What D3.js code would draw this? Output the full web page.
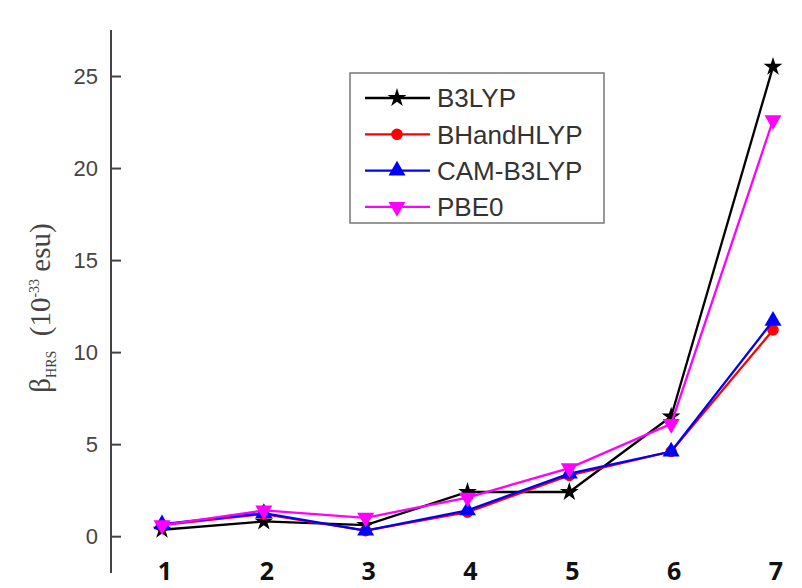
<!DOCTYPE html>
<html>
<head>
<meta charset="utf-8">
<script src="https://cdn.jsdelivr.net/npm/d3@7"></script>
<style>
  body { margin: 0; background: #fff; }
</style>
</head>
<body>
<div id="chart"></div>
<script>
// data
var systems = [1, 2, 3, 4, 5, 6, 7];
var b3lyp     = [0.35, 0.8, 0.6, 2.4, 2.4, 6.5, 25.5];
var bhandhlyp = [0.6, 1.2, 0.3, 1.3, 3.3, 4.6, 11.2];
var camb3lyp  = [0.65, 1.25, 0.3, 1.4, 3.4, 4.6, 11.7];
var pbe0      = [0.6, 1.4, 1.0, 2.1, 3.7, 6.1, 22.6];
var yTicks = [0, 5, 10, 15, 20, 25];

var series = [
  {name: "B3LYP",     values: b3lyp,     color: "#000000", symbol: d3.symbolStar,     size: 110, rot: 0},
  {name: "BHandHLYP", values: bhandhlyp, color: "#ff0000", symbol: d3.symbolCircle,   size: 105, rot: 0},
  {name: "CAM-B3LYP", values: camb3lyp,  color: "#0000ff", symbol: d3.symbolTriangle, size: 125, rot: 0},
  {name: "PBE0",      values: pbe0,      color: "#ff00ff", symbol: d3.symbolTriangle, size: 125, rot: 180}
];

var width = 802,
    height = 588;

var svg = d3.select("#chart")
    .append("svg")
    .attr("width", width)
    .attr("height", height);

var x = d3.scalePoint()
    .domain(systems)
    .range([162, 773]);

var y = d3.scaleLinear()
    .domain([-2, 27.5])
    .range([573, 30]);

// y axis: line with inward ticks
var yAxis = svg.append("g")
    .attr("transform", "translate(111,0)")
    .call(d3.axisRight(y).tickValues(yTicks).tickSize(10).tickFormat(""));

yAxis.select(".domain")
    .attr("d", "M0," + y(27.5) + "V" + y(-2))
    .attr("stroke", "#444")
    .attr("stroke-width", 2);
yAxis.selectAll(".tick line")
    .attr("stroke", "#444")
    .attr("stroke-width", 2);

svg.append("g")
    .selectAll("text")
    .data(yTicks)
    .enter()
    .append("text")
    .attr("x", 98)
    .attr("y", function(d) { return y(d); })
    .attr("dy", "0.36em")
    .attr("text-anchor", "end")
    .style("font-family", "Liberation Sans, Arial, sans-serif")
    .style("font-size", "22px")
    .style("fill", "#444")
    .text(function(d) { return d; });

// x labels
svg.append("g")
    .selectAll("text")
    .data(systems)
    .enter()
    .append("text")
    .attr("x", function(d) { return x(d) + 3; })
    .attr("y", 580)
    .attr("text-anchor", "middle")
    .style("font-family", "Open Sans, sans-serif")
    .style("font-weight", "bold")
    .style("font-size", "25px")
    .style("fill", "#111")
    .text(function(d) { return d; });

// y title
var title = svg.append("text")
    .attr("transform", "translate(50,308) rotate(-90)")
    .attr("text-anchor", "middle")
    .style("font-family", "Liberation Serif, Times New Roman, serif")
    .style("font-size", "29px")
    .style("fill", "#444");
title.append("tspan").text("\u03b2");
title.append("tspan").attr("dy", 6).style("font-size", "14px").text("HRS");
title.append("tspan").attr("dy", -6).text("\u00a0\u00a0(10");
title.append("tspan").attr("dy", -11).style("font-size", "14px").text("-33");
title.append("tspan").attr("dy", 11).text(" esu)");

// lines and markers
var line = d3.line()
    .x(function(d, i) { return x(systems[i]); })
    .y(function(d) { return y(d); });

series.forEach(function(s) {
  svg.append("path")
      .datum(s.values)
      .attr("d", line)
      .attr("fill", "none")
      .attr("stroke", s.color)
      .attr("stroke-width", 2.3);

  svg.append("g")
      .selectAll("path")
      .data(s.values)
      .enter()
      .append("path")
      .attr("d", d3.symbol().type(s.symbol).size(s.size))
      .attr("transform", function(d, i) {
        return "translate(" + x(systems[i]) + "," + y(d) + ") rotate(" + s.rot + ")";
      })
      .attr("fill", s.color);
});

// legend
var legend = svg.append("g");
legend.append("rect")
    .attr("x", 350)
    .attr("y", 73)
    .attr("width", 254)
    .attr("height", 150)
    .attr("fill", "#fff")
    .attr("stroke", "#777")
    .attr("stroke-width", 1.5);

var items = legend.selectAll("g.item")
    .data(series)
    .enter()
    .append("g")
    .attr("class", "item")
    .attr("transform", function(d, i) { return "translate(0," + (98 + i * 36.3) + ")"; });

items.append("line")
    .attr("x1", 365)
    .attr("x2", 430)
    .attr("stroke", function(d) { return d.color; })
    .attr("stroke-width", 2.3);

items.append("path")
    .attr("d", function(d) { return d3.symbol().type(d.symbol).size(d.size)(); })
    .attr("transform", function(d) { return "translate(397,0) rotate(" + d.rot + ")"; })
    .attr("fill", function(d) { return d.color; });

items.append("text")
    .attr("x", 437)
    .attr("dy", "0.36em")
    .style("font-family", "Liberation Sans, Arial, sans-serif")
    .style("font-size", "26px")
    .style("fill", "#333")
    .text(function(d) { return d.name; });
</script>
</body>
</html>
